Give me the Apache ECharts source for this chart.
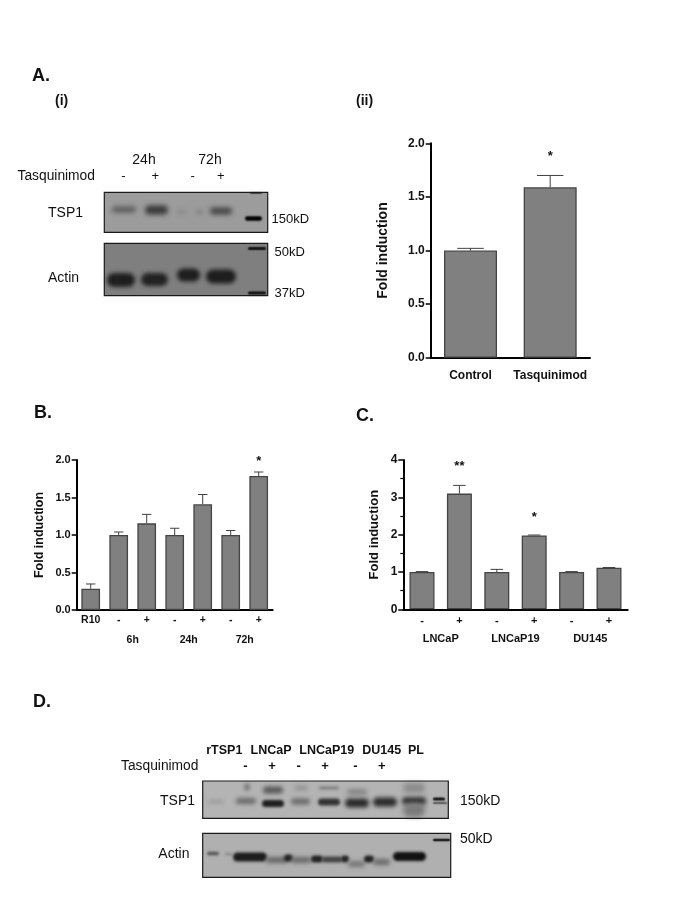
<!DOCTYPE html>
<html>
<head>
<meta charset="utf-8">
<style>html,body{margin:0;padding:0;background:#fff}#c{width:685px;height:913px}</style>
<script src="https://cdn.jsdelivr.net/npm/echarts@6/dist/echarts.min.js"></script>
</head>
<body>
<div id="c"></div>
<script>
// ---------- data ----------
const panelACategories = ['Control', 'Tasquinimod'];
const panelAValues = [1.0, 1.59];
const panelAErrorTops = [1.02, 1.70];
const panelAMarkIndex = [1];
const panelAMarkLevel = [1.89];
const panelAMarkText = ['*'];

const panelBCategories = ['R10', '-', '+', '-', '+', '-', '+'];
const panelBValues = [0.284, 1.0, 1.155, 1.0, 1.41, 1.0, 1.787];
const panelBErrorTops = [0.347, 1.04, 1.275, 1.09, 1.54, 1.06, 1.84];
const panelBGroups = ['6h', '24h', '72h'];
const panelBGroupStarts = [1, 3, 5];
const panelBMarkIndex = [6];
const panelBMarkLevel = [2.0];
const panelBMarkText = ['*'];

const panelCCategories = ['-', '+', '-', '+', '-', '+'];
const panelCValues = [1.0, 3.1, 1.0, 1.98, 1.0, 1.115];
const panelCErrorTops = [1.01, 3.32, 1.07, 1.99, 1.01, 1.12];
const panelCGroups = ['LNCaP', 'LNCaP19', 'DU145'];
const panelCGroupStarts = [0, 2, 4];
const panelCMarkIndex = [1, 3];
const panelCMarkLevel = [3.87, 2.5];
const panelCMarkText = ['**', '*'];

const FONT = '"Liberation Sans", Arial, sans-serif';

// ---------- chart panels ----------
const grids = [], xAxes = [], yAxes = [], series = [];

function addPanel(cfg) {
  const k = grids.length;
  grids.push({left: cfg.left, width: cfg.width, top: cfg.top, height: cfg.height});
  xAxes.push({
    type: 'category', gridIndex: k, data: cfg.categories, boundaryGap: true,
    axisLine: {lineStyle: {color: '#000', width: 2}}, axisTick: {show: false},
    axisLabel: {interval: 0, color: '#111', fontFamily: FONT, fontWeight: 'bold', fontSize: cfg.xFont, margin: cfg.xMargin}
  });
  yAxes.push({
    type: 'value', gridIndex: k, min: 0, max: cfg.max, interval: cfg.interval,
    name: 'Fold induction', nameLocation: 'middle', nameGap: cfg.nameGap,
    nameTextStyle: {color: '#111', fontFamily: FONT, fontWeight: 'bold', fontSize: cfg.nameFont},
    splitLine: {show: false},
    axisLine: {show: true, onZero: false, lineStyle: {color: '#000', width: 2}},
    axisTick: {show: true, length: 5, lineStyle: {color: '#000', width: 1.5}},
    minorTick: {show: !!cfg.minor, splitNumber: 2, length: 3, lineStyle: {color: '#000', width: 1.2}},
    axisLabel: {color: '#111', fontFamily: FONT, fontWeight: 'bold', fontSize: cfg.yFont, margin: 6,
      formatter: v => cfg.decimals ? v.toFixed(cfg.decimals) : String(v)}
  });
  series.push({
    type: 'bar', xAxisIndex: k, yAxisIndex: k, data: cfg.values, barWidth: cfg.barWidth, silent: true,
    itemStyle: {color: '#808080', borderColor: '#444', borderWidth: 1.3}
  });
  const capHalf = cfg.barWidth / 4;
  series.push({
    type: 'custom', xAxisIndex: k, yAxisIndex: k, silent: true, z: 1,
    data: cfg.values.map((v, i) => [i, v, cfg.errorTops[i]]),
    encode: {x: 0, y: [1, 2]},
    renderItem: (p, api) => {
      const a = api.coord([api.value(0), api.value(1)]);
      const b = api.coord([api.value(0), api.value(2)]);
      const st = {stroke: '#404040', lineWidth: 1, fill: null};
      return {type: 'group', children: [
        {type: 'line', shape: {x1: a[0], y1: a[1], x2: b[0], y2: b[1]}, style: st},
        {type: 'line', shape: {x1: b[0] - capHalf, y1: b[1], x2: b[0] + capHalf, y2: b[1]}, style: st}
      ]};
    }
  });
  series.push({
    type: 'custom', xAxisIndex: k, yAxisIndex: k, silent: true, z: 3,
    data: cfg.markIndex.map((c, i) => [c, cfg.markLevel[i]]),
    encode: {x: 0, y: 1},
    renderItem: (p, api) => {
      const c = api.coord([api.value(0), api.value(1)]);
      return {type: 'text', style: {text: cfg.markText[p.dataIndex], x: c[0], y: c[1] + 1.5, textAlign: 'center',
        textVerticalAlign: 'middle', fill: '#111', font: 'bold 13px ' + FONT}};
    }
  });
  if (cfg.groups) {
    series.push({
      type: 'custom', xAxisIndex: k, yAxisIndex: k, silent: true, clip: false, z: 3,
      data: cfg.groupStarts.map(s => [s, 0]),
      encode: {x: 0, y: 1},
      renderItem: (p, api) => {
        const a = api.coord([api.value(0), 0]);
        const b = api.coord([api.value(0) + 1, 0]);
        return {type: 'text', style: {text: cfg.groups[p.dataIndex], x: (a[0] + b[0]) / 2, y: a[1] + cfg.groupDrop,
          textAlign: 'center', textVerticalAlign: 'middle', fill: '#111', font: 'bold ' + cfg.groupFont + 'px ' + FONT}};
      }
    });
  }
}

addPanel({left: 430.7, width: 159.3, top: 143.3, height: 214.4, categories: panelACategories, values: panelAValues,
  errorTops: panelAErrorTops, markIndex: panelAMarkIndex, markLevel: panelAMarkLevel, markText: panelAMarkText,
  max: 2, interval: 0.5, decimals: 1, barWidth: 53, nameGap: 41, nameFont: 14, yFont: 12, xFont: 12, xMargin: 12});
addPanel({left: 76.7, width: 196, top: 460, height: 150, categories: panelBCategories, values: panelBValues,
  errorTops: panelBErrorTops, markIndex: panelBMarkIndex, markLevel: panelBMarkLevel, markText: panelBMarkText,
  groups: panelBGroups, groupStarts: panelBGroupStarts, groupDrop: 30.5, groupFont: 10.5,
  max: 2, interval: 0.5, decimals: 1, barWidth: 18.7, nameGap: 31, nameFont: 12.5, yFont: 11, xFont: 10.5, xMargin: 5});
addPanel({left: 403.3, width: 224.4, top: 460, height: 149.3, categories: panelCCategories, values: panelCValues,
  errorTops: panelCErrorTops, markIndex: panelCMarkIndex, markLevel: panelCMarkLevel, markText: panelCMarkText,
  groups: panelCGroups, groupStarts: panelCGroupStarts, groupDrop: 29.5, groupFont: 11,
  max: 4, interval: 1, minor: true, barWidth: 25, nameGap: 22, nameFont: 13, yFont: 12, xFont: 11, xMargin: 6});

// ---------- western blot panels (photographic decoration, not data) ----------
const g = [];
function label(text, x, y, size, weight, align) {
  g.push({type: 'text', silent: true, z: 20, style: {text, x, y, fill: '#111', textAlign: align || 'left', textVerticalAlign: 'middle',
    font: (weight || 'normal') + ' ' + size + 'px ' + FONT}});
}
function blot(x, y, w, h, bg) {
  g.push({type: 'rect', silent: true, z: 5, shape: {x, y, width: w, height: h}, style: {fill: bg}});
}
function frame(x, y, w, h) {
  g.push({type: 'rect', silent: true, z: 15, shape: {x, y, width: w, height: h}, style: {fill: null, stroke: '#1a1a1a', lineWidth: 1.2}});
}
// the shape sits off the canvas and only its blurred shadow lands on the blot
const OFF = 3000;
function band(x0, x1, cy, h, shade, blur) {
  g.push({type: 'rect', silent: true, z: 10,
    shape: {x: x0 - OFF, y: cy - h / 2, width: x1 - x0, height: h, r: h / 2},
    style: {fill: shade, shadowColor: shade, shadowBlur: blur === undefined ? 4 : blur, shadowOffsetX: OFF}});
}

label('A.', 32, 76, 18, 'bold');
label('(i)', 55, 101, 14, 'bold');
label('(ii)', 356, 101, 14, 'bold');
label('B.', 34, 413, 18, 'bold');
label('C.', 356, 416, 18, 'bold');
label('D.', 33, 702, 18, 'bold');

label('24h', 144, 160, 14, 'normal', 'center');
label('72h', 210, 160, 14, 'normal', 'center');
label('Tasquinimod', 17.5, 176, 13.8);
[['-', 123.3], ['+', 155.3], ['-', 192.7], ['+', 220.7]].forEach(s => label(s[0], s[1], 176, 13, 'normal', 'center'));
label('TSP1', 48, 213, 14);
label('Actin', 48, 278, 14);
label('150kD', 271.5, 219, 13);
label('50kD', 274.5, 252.5, 13);
label('37kD', 274.5, 293.5, 13);

blot(104.3, 192.3, 163.4, 40, '#9c9c9c');
band(112, 136, 209.5, 6, '#5a5a5a', 5);
band(145, 168, 210, 9, '#383838', 5);
band(177, 186, 212, 4, '#858585', 5);
band(196, 203, 212, 4, '#7c7c7c', 4);
band(210, 232, 211, 7, '#444', 5);
band(245, 262, 218.5, 4.5, '#000', 2);
band(250, 262, 193, 1.5, '#222', 1);
frame(104.3, 192.3, 163.4, 40);

blot(104.3, 243.3, 163.4, 52.4, '#7f7f7f');
band(107, 135, 280, 14, '#1e1e1e', 4);
band(141, 168, 279.5, 13, '#222', 4);
band(177, 200, 275, 13, '#1e1e1e', 4);
band(206, 236, 276.5, 14, '#1e1e1e', 4);
band(248, 266, 248.5, 3, '#111', 1.5);
band(248, 266, 293, 3, '#111', 1.5);
frame(104.3, 243.3, 163.4, 52.4);

label('rTSP1', 224.3, 751, 12.5, 'bold', 'center');
label('LNCaP', 271, 751, 12.5, 'bold', 'center');
label('LNCaP19', 326.7, 751, 12.5, 'bold', 'center');
label('DU145', 381.7, 751, 12.5, 'bold', 'center');
label('PL', 416, 751, 12.5, 'bold', 'center');
label('Tasquinimod', 121, 766, 13.8);
[['-', 245.3], ['+', 272], ['-', 298.7], ['+', 325], ['-', 355.3], ['+', 381.7]].forEach(s => label(s[0], s[1], 766, 13, 'bold', 'center'));
label('TSP1', 160, 801, 14);
label('Actin', 158.3, 854, 14);
label('150kD', 460, 801, 14);
label('50kD', 460, 839.5, 14);

blot(202.7, 781, 245.6, 37.3, '#b4b4b4');
band(208, 224, 801.5, 3, '#959595', 4);
band(236, 256, 801, 6, '#6a6a6a', 4);
band(245, 249, 787, 7, '#5a5a5a', 4);
band(262, 284, 803.5, 7, '#1e1e1e', 3);
band(263, 283, 790, 7, '#585858', 4);
band(291, 310, 801.5, 6, '#686868', 4);
band(294, 308, 788, 4, '#8e8e8e', 4);
band(318, 340, 802, 7, '#333', 3);
band(319, 339, 788, 3, '#7c7c7c', 3);
band(345, 369, 803, 9, '#2a2a2a', 4);
band(347, 367, 792, 5, '#7a7a7a', 5);
band(373, 397, 802, 9, '#2c2c2c', 4);
band(402, 426, 801, 8, '#333', 4);
band(403, 425, 810, 14, '#7a7a7a', 5);
band(403, 425, 788, 9, '#8a8a8a', 5);
band(433, 445, 799, 3, '#111', 1.5);
band(433, 447, 803, 2, '#555', 1.5);
frame(202.7, 781, 245.6, 37.3);

blot(202.7, 833.3, 248, 44, '#b0b0b0');
band(207, 219, 853.5, 3.5, '#555', 2.5);
band(225, 232, 854, 2.5, '#888', 2.5);
band(233, 267, 857, 9, '#1c1c1c', 3);
band(266, 288, 860, 6, '#666', 4);
band(284, 293, 858, 7, '#222', 3);
band(291, 311, 860, 6, '#686868', 4);
band(311, 323, 859, 7, '#222', 3);
band(322, 342, 859.5, 6, '#444', 3);
band(341, 349, 859, 7, '#222', 3);
band(348, 365, 864, 6, '#777', 4);
band(364, 374, 859, 7, '#222', 3);
band(373, 390, 862, 6, '#6a6a6a', 4);
band(393, 426, 856.5, 9, '#111', 3);
band(433, 450, 840, 2.5, '#111', 1.2);
frame(202.7, 833.3, 248, 44);

echarts.init(document.getElementById('c'), null, {renderer: 'canvas'}).setOption({
  animation: false, backgroundColor: '#fff', tooltip: {show: false},
  grid: grids, xAxis: xAxes, yAxis: yAxes, series, graphic: g
});
</script>
</body>
</html>
